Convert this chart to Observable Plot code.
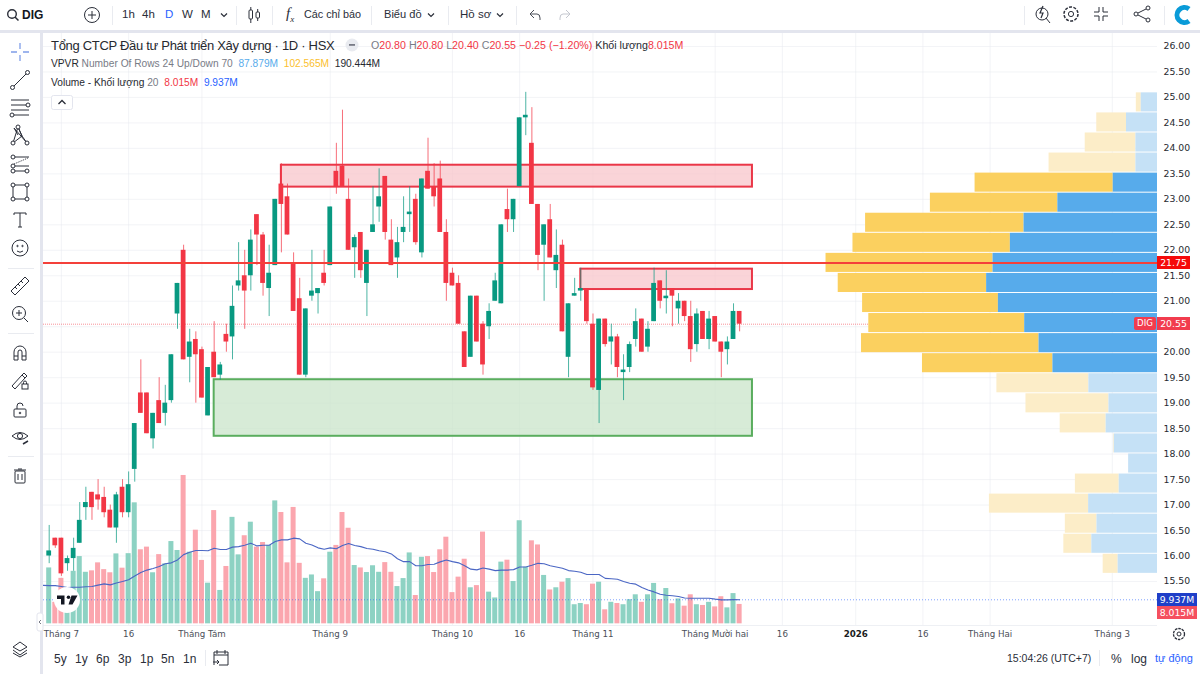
<!DOCTYPE html>
<html lang="vi">
<head>
<meta charset="utf-8">
<title>DIG</title>
<script src="https://cdn.jsdelivr.net/npm/d3@7"></script>
<script src="https://cdn.jsdelivr.net/npm/@observablehq/plot@0.6"></script>
<style>
html,body{margin:0;padding:0;background:#fff;width:1200px;height:674px;overflow:hidden;font-family:"Liberation Sans",Arial,sans-serif;color:#131722}
#wrap{position:relative;width:1200px;height:674px;overflow:hidden}
#wrap>svg{position:absolute;left:0;top:0}
.t{position:absolute;white-space:nowrap;line-height:1}
.bar{position:absolute;background:#e3e5ee}
.tag{position:absolute;color:#fff;font-size:9.3px;line-height:13px;height:13px;text-align:center;font-family:"DejaVu Sans",sans-serif}
.r{color:#f23645}.g{color:#787b86}
</style>
</head>
<body>
<div id="wrap"></div>
<script>
// Daily candles, one entry per trading day (thousand VND)
const open = [16,16.35,16.35,15.85,15.95,16.25,16.95,17.25,17.2,17.15,16.9,16.55,17.35,16.85,17.7,19.2,19.2,18.3,19.05,18.8,19.05,20.75,22,19.9,20.25,20.05,18.75,20,19.55,20.35,20.3,21.3,21.5,21.5,22.7,22.3,21.25,21.7,23.3,23.05,21.75,21.05,19.55,21.1,21.15,21.55,21.7,23.55,23.65,23,22.05,22.35,21.35,22.35,22.85,23.45,22.2,21.85,22.35,22.7,23,21.95,23.55,23.25,23.4,22.35,21.55,21.35,20.4,19.9,21.1,20.55,20.5,21,20.95,22.8,22.6,23.25,24.6,24.1,22.9,22.1,22.6,21.6,22.1,19.9,21.1,21.2,21.25,20.55,19.25,20.65,20.2,20.3,19.6,19.7,20.25,20.65,20.1,20.6,21.4,21.05,21.25,20.85,21,20.7,20.15,20.8,20.25,20.7,20.2,20.05,20.25,20.8];
const high = [16.6,16.35,16.35,16,16.35,17.05,17.35,17.25,17.5,17.35,17,17.25,17.5,17.65,18.6,19.85,19.2,18.8,19.5,19.35,19.95,21.35,22.1,20.45,20.4,20.1,19.7,20.6,19.8,20.55,21.3,22.15,22,22.4,22.7,22.35,22.1,23,23.7,23.3,21.95,21.45,20.85,22,21.25,22,22.85,24.1,24.75,23.4,22.3,22.35,22,23.25,23.6,23.45,22.6,22.45,23.05,23.25,23.1,23.4,24.2,23.7,23.75,22.6,21.65,21.5,20.4,21.1,21.1,20.6,20.95,21.55,22.5,23.2,23,24.6,25.1,24.8,22.9,22.5,22.9,22.4,22.2,20.95,21.45,21.65,21.25,20.75,20.65,20.65,20.55,20.35,19.95,20.2,20.85,20.65,20.6,21.65,21.4,21.6,21.25,21.15,21,21,20.85,20.8,20.8,20.7,20.2,20.3,20.95,20.8];
const low = [15.85,16.15,15.6,15.7,15.7,16.25,16.7,16.7,16.9,16.75,16.55,16.25,16.75,16.75,17.45,18.8,18.4,18.1,18.6,18.55,19,20.45,19.85,19.4,19,19.1,18.75,19.5,19.45,20,19.85,21.2,20.45,21.2,21.7,21.1,20.7,21.7,21.95,22.3,20.8,19.55,19.5,21,20.75,21.3,21.7,23.1,23.25,22,21.45,21.45,20.7,22.35,22.55,22.2,21.7,21.45,22.15,22.35,22.1,21.85,23.2,22.85,22.35,21,21.3,20.55,19.7,19.9,20.2,19.55,20.25,21,20.95,22.35,22.35,23.25,24.25,22.9,21.6,21,21.85,21.25,20.4,19.5,21.1,21,20.55,19.25,18.6,20.1,19.75,19.5,19.05,19.6,20.1,20,20,20.6,20.85,20.75,20.5,20.55,20.6,19.8,20,20.25,20.05,20.2,19.5,19.75,20.25,20.4];
const close = [16.1,16.2,15.65,15.95,16.15,16.7,17.05,16.95,17.1,16.85,16.55,17.2,16.85,17.4,18.6,18.8,18.4,18.8,18.6,19,19.95,21.35,19.85,20.2,19.95,19.1,19.7,19.5,19.75,20.2,20.9,21.4,21.2,22.2,22.3,21.35,21.55,23,22.9,22.3,20.8,19.55,20.85,21.2,21.25,21.35,22.85,23.25,23.25,22,22.25,21.6,22,22.5,23.05,22.35,21.7,22.15,22.45,22.75,22.15,23.4,23.2,23.05,22.35,21.35,21.3,20.55,19.7,21.1,20.2,19.75,20.8,21.4,22.5,22.6,23,24.6,24.65,22.9,21.9,22.5,21.85,21.9,20.4,20.95,21.15,21.25,20.6,19.3,20.65,20.15,20.3,19.7,19.65,20.15,20.6,20,20.45,21.35,21,21.1,21.1,21,20.7,20.05,20.75,20.25,20.65,20.2,20,20.2,20.8,20.55];
// Traded volume per day (millions of shares)
const volume = [23.1,8.9,18.8,14.6,21.7,27.8,21.3,21.9,25.2,22.4,21.1,28.9,23,29,50,30.6,31.7,21.1,28.6,24.8,34,30.3,61.3,29.6,38.7,26.2,16.8,46.8,13.8,23.7,44,28.5,36.4,42,31.7,33.6,32.4,50.8,46,25.2,48.1,25,18.8,20.2,13.3,18.6,29.6,32.4,46,39.5,24.1,23.1,21.2,24,21.3,25.3,21.3,15.4,18.7,29.3,11.7,27.5,27.8,21.2,30.6,35.8,12.9,19.3,26.7,14.9,15.8,37.9,13.1,10.7,25.5,26.3,17.5,42.6,23.4,34.3,32.6,20,14,14.9,17.2,18.7,7.9,8.4,7.9,16.4,17.2,5.8,8.9,8.4,7.9,10,12,8.9,12,16.7,10,14.6,8.3,10.3,7.3,12,7.9,7.6,8.9,7,11.2,6.6,12.5,8.015];
// 20-day volume average; the first value belongs to the session before the first candle
const volumeAvg = [15.9,15.8,15.8,15.4,15,15.1,15.1,15.3,15.4,16,16.5,16.1,16.9,17.5,18.2,19.8,21.2,22.2,22.9,23.7,24.8,25.2,26.4,28.6,29.6,30.3,30.3,30.2,31.2,30.7,30.7,31.7,31.9,32.5,33.3,32.2,32.5,32.5,34,34.7,34.7,35.4,35.1,33.3,32.6,31.4,30.8,31.4,31,32.4,33.2,32.4,31.9,31.1,30.8,30.2,29.8,28.9,26.9,25.7,25.7,24,24,24.5,24.6,25.6,26.4,25.7,25.2,24,22.6,22.3,23.1,22.6,22,22.2,22.2,22.4,23.5,23.5,24.2,25,24.8,24,23.5,23,22,21.7,21.3,20.4,20.4,20.4,18.8,18.6,18.4,17.5,16.8,16.4,15,14,13.2,12.2,11.8,11.6,11.3,10.7,10.6,10.6,10.6,10.6,10.2,9.9,9.9,10,9.937];
// Volume profile, 24 rows from the lowest price upward (millions)
const vpUp = [1.84,3.07,2.83,3.22,1.79,1.35,2.02,2.4,2.27,3.21,4.89,5.54,6.21,7.44,7.99,7.69,6.88,6.24,4.66,2.07,1.01,1.01,1.45,.76];
const vpDown = [.7,1.31,1.48,4.64,2.05,0,.03,2.15,3.88,4.3,6.1,8.3,7.29,6.35,6.94,7.81,7.36,7.41,5.96,6.46,4.06,2.37,1.39,.23];
const vpLow = 15.65, vpStep = .39375, vaRows = [10, 19];
// Supply and demand zones drawn on the chart: session span and price span
const zoneStart = [38, 87, 27], zoneEnd = [115.1, 115.1, 115.1];
const zoneTop = [23.67, 21.63, 19.46], zoneBottom = [23.24, 21.23, 18.35];
const zoneColor = ["#ea3748", "#ea3748", "#5aad5e"], zoneFill = ["#f8c6cb", "#f8c6cb", "#c9e4ca"];
const keyLevel = 21.75, lastPrice = 20.55, lastVolume = 8.015, lastAvg = 9.937;
// Axes
const priceTicks = [26,25.5,25,24.5,24,23.5,23,22.5,22,21.5,21,20.5,20,19.5,19,18.5,18,17.5,17,16.5,16,15.5];
const hiddenPriceTick = 20.5; // covered by the last-price tag in the chart
const timeTicks = [2,13,25,46,66,77,89,109,120,143,154,174];
const timeLabels = ["Tháng 7","16","Tháng Tám","Tháng 9","Tháng 10","16","Tháng 11","Tháng Mười hai","16","16","Tháng Hai","Tháng 3"];
const yearTick = 132, yearLabel = "2026";

const up = "#089981", down = "#f23645";
const days = open.map((_, i) => i);
// Twin-axis conversions onto the shared scales
const volBase = 14.669, volPerM = .0475;
const vpRight = 181.39, vpPerM = 3.5;
const toPrice = v => volBase + v * volPerM;

const vpRows = vpUp.map((u, k) => ({
  lo: vpLow + k * vpStep, hi: vpLow + (k + 1) * vpStep,
  u, d: vpDown[k], va: k >= vaRows[0] && k <= vaRows[1]
}));
const zones = zoneStart.map((s, k) => ({s, e: zoneEnd[k], t: zoneTop[k], b: zoneBottom[k], c: zoneColor[k], f: zoneFill[k]}));

const chart = Plot.plot({
  width: 1200, height: 674,
  marginLeft: 43, marginRight: 43, marginTop: 33, marginBottom: 49,
  style: {background: "transparent", fontFamily: '"DejaVu Sans",sans-serif', fontSize: "10px", color: "#131722"},
  x: {type: "linear", domain: [0, 174], range: [48.7, 1111.84], axis: null},
  y: {type: "linear", domain: [26, 15.5], range: [46, 581], axis: null},
  marks: [
    Plot.gridX(timeTicks.concat(yearTick), {stroke: "#e8eaf0", strokeOpacity: .5}),
    Plot.gridY(priceTicks, {stroke: "#e8eaf0", strokeOpacity: .5}),
    // Volume pane
    Plot.rect(days, {
      x1: i => i - .41, x2: i => i + .41,
      y1: () => volBase, y2: i => toPrice(volume[i]),
      fill: i => close[i] < open[i] ? "#fba6ae" : "#8dd2c3"
    }),
    Plot.ruleY([toPrice(lastAvg)], {stroke: "#2962ff", strokeOpacity: .6, strokeWidth: 1, strokeDasharray: "1 2"}),
    Plot.line(volumeAvg, {x: (_, i) => i - 1, y: d => toPrice(d), stroke: "#4a66c4", strokeWidth: 1.1, curve: "linear"}),
    // Current price line, behind the profile
    Plot.ruleY([lastPrice], {stroke: "#f23645", strokeOpacity: .55, strokeWidth: 1, strokeDasharray: "1 1"}),
    // Volume profile
    Plot.rect(vpRows, {
      x1: d => vpRight - (d.u + d.d) * vpPerM, x2: d => vpRight - d.u * vpPerM,
      y1: "lo", y2: "hi", insetTop: .5, insetBottom: .5,
      fill: d => d.va ? "#fbd05f" : "#fcedc8"
    }),
    Plot.rect(vpRows, {
      x1: d => vpRight - d.u * vpPerM, x2: () => vpRight,
      y1: "lo", y2: "hi", insetTop: .5, insetBottom: .5,
      fill: d => d.va ? "#57abeb" : "#c5e1f6"
    }),
    // Zones
    Plot.rect(zones, {x1: "s", x2: "e", y1: "b", y2: "t", fill: "f", fillOpacity: .75, stroke: "c", strokeWidth: 2}),
    // Candles
    Plot.ruleX(days, {
      x: i => i, y1: i => low[i], y2: i => high[i], strokeWidth: 1, strokeOpacity: .72,
      stroke: i => close[i] < open[i] ? down : up
    }),
    Plot.rect(days, {
      x1: i => i - .39, x2: i => i + .39,
      y1: i => Math.min(open[i], close[i]), y2: i => Math.max(open[i], close[i]),
      fill: i => close[i] < open[i] ? down : up
    }),
    // Horizontal level
    Plot.ruleY([keyLevel], {stroke: "#f4403a", strokeWidth: 2}),
    // Axes
    Plot.axisY(priceTicks.filter(d => d !== hiddenPriceTick), {anchor: "right", tickSize: 0, tickPadding: 6, label: null, tickFormat: d => d.toFixed(2), fontSize: 9.3, fill: "#26292f"}),
    Plot.axisX(timeTicks, {anchor: "bottom", tickSize: 0, tickPadding: 5, label: null, fontSize: 8.7, fill: "#4a4e58",
      tickFormat: d => timeLabels[timeTicks.indexOf(d)]}),
    Plot.axisX([yearTick], {anchor: "bottom", tickSize: 0, tickPadding: 5, label: null, fontSize: 8.7, fill: "#1a1c22", fontWeight: "bold",
      tickFormat: () => yearLabel})
  ]
});

const wrap = document.getElementById("wrap");
wrap.appendChild(chart);
const Y = chart.scale("y").apply;

function bar(x, y, w, h, c) {
  const d = document.createElement("div"); d.className = "bar";
  d.style.cssText = `left:${x}px;top:${y}px;width:${w}px;height:${h}px;` + (c ? `background:${c}` : "");
  wrap.appendChild(d);
}
function txt(x, y, html, css) {
  const d = document.createElement("div"); d.className = "t";
  d.style.cssText = `left:${x}px;top:${y}px;` + (css || "");
  d.innerHTML = html; wrap.appendChild(d); return d;
}
function tag(x, yc, w, label, bg, css) {
  const d = document.createElement("div"); d.className = "tag";
  d.style.cssText = `left:${x}px;top:${yc - 6.5}px;width:${w}px;background:${bg};` + (css || "");
  d.textContent = label; wrap.appendChild(d);
}

// Frame
bar(0, 30, 1200, 3); bar(40, 33, 3, 641);
bar(43, 625, 1114, 1, "#eef0f4");

// Price-scale tags, placed from the price scale
tag(1157, Y(keyLevel), 33, keyLevel.toFixed(2), "#f50a0a");
tag(1157, Y(lastPrice), 33, lastPrice.toFixed(2), "#f23c4e");
tag(1134, Y(lastPrice), 22, "DIG", "#f23c4e", "border-radius:2px;font-size:8.6px");
tag(1157, Y(toPrice(lastAvg)), 40, lastAvg.toFixed(3) + "M", "#1f3fc8");
tag(1157, Y(toPrice(lastAvg)) + 13, 40, lastVolume.toFixed(3) + "M", "#f5505f");

// Top toolbar
const tb = "font-size:11.5px;color:#2a2e39;";
txt(22, 9, "DIG", "font-size:12px;font-weight:bold;font-family:'Liberation Sans Narrow','Liberation Sans';");
txt(122, 9, "1h", tb); txt(142, 9, "4h", tb); txt(165, 9, "D", tb + "color:#2962ff");
txt(182, 9, "W", tb); txt(201, 9, "M", tb);
txt(304, 9, "Các chỉ báo", "font-size:10.8px;color:#2a2e39");
txt(384, 9, "Biểu đồ", "font-size:11.1px;color:#2a2e39");
txt(460, 9, "Hồ sơ", "font-size:11.5px;color:#2a2e39");
txt(286, 6, "f<sub style='font-size:9px'>x</sub>", "font-size:15px;font-style:italic;font-family:'Liberation Serif';color:#2a2e39");

// Legend
txt(51, 39, "Tổng CTCP Đầu tư Phát triển Xây dựng · 1D · HSX", "font-size:13px;letter-spacing:-.3px;color:#26292f");
txt(371, 40,
  "<span class=g>O</span><span class=r>20.80</span> <span class=g>H</span><span class=r>20.80</span> <span class=g>L</span><span class=r>20.40</span> <span class=g>C</span><span class=r>20.55</span> <span class=r>−0.25 (−1.20%)</span> <span style='color:#26292f'>Khối lượng</span><span class=r>8.015M</span>",
  "font-size:10.65px");
txt(51, 59,
  "<span style='color:#26292f'>VPVR</span> <span class=g>Number Of Rows 24 Up/Down 70</span>&nbsp; <span style='color:#57abeb'>87.879M</span>&nbsp; <span style='color:#fbc02d'>102.565M</span>&nbsp; <span style='color:#26292f'>190.444M</span>",
  "font-size:10.2px");
txt(51, 78,
  "<span style='color:#26292f'>Volume - Khối lượng</span> <span class=g>20</span>&nbsp; <span class=r>8.015M</span>&nbsp; <span style='color:#2962ff'>9.937M</span>",
  "font-size:10.2px");

// Bottom toolbar
const bb = "font-size:12px;color:#2a2e39;";
[["5y",54],["1y",75],["6p",96],["3p",118],["1p",140],["5n",161],["1n",183]].forEach(([s,x]) => txt(x, 653, s, bb));
txt(1007, 653, "15:04:26 (UTC+7)", "font-size:10.5px;color:#2a2e39");
txt(1111, 653, "%", bb); txt(1131, 653, "log", bb); txt(1155, 653, "tự động", "font-size:11px;color:#2962ff");

// Toolbar icons
const S = 'fill="none" stroke="#2a2e39" stroke-width="1"';
const g = (x, y, m) => `<g transform="translate(${x},${y})" ${S}>${m}</g>`;
const chev = (x, y) => g(x, y, '<path d="M-3,-1.5L0,1.5L3,-1.5" stroke-width="1.2"/>');
const node = (x, y) => `<circle cx="${x}" cy="${y}" r="2" fill="#fff"/>`;
const sep = (x, y, w, h) => `<rect x="${x}" y="${y}" width="${w}" height="${h}" fill="#e9ebf0"/>`;
const icons = [
  g(13, 15, '<circle cx="-1" cy="-1" r="4.3" stroke-width="1.4"/><path d="M2,2L5.5,5.5" stroke-width="1.5"/>'),
  g(92, 15, '<circle r="7.5"/><path d="M-4,0H4M0,-4V4"/>'),
  chev(224, 15), chev(431, 15), chev(500, 15),
  sep(236, 6, 1, 19), sep(272, 6, 1, 19), sep(371, 6, 1, 19), sep(448, 6, 1, 19), sep(516, 6, 1, 19),
  sep(1024, 6, 1, 19), sep(1122, 6, 1, 19), sep(1164, 6, 1, 19), sep(112, 6, 1, 19),
  g(254, 15, '<rect x="-5" y="-5" width="3.5" height="9" rx="1"/><path d="M-3.2,-8V-5M-3.2,4V8"/><rect x="2" y="-3" width="3.5" height="6" rx="1"/><path d="M3.7,-6V-3M3.7,3V6"/>'),
  g(535, 15, '<path d="M-5,-1L-1,-5M-5,-1L-1,3M-5,-1H2Q5,-1 5,3V5" stroke="#4a4e58"/>'),
  g(565, 15, '<path d="M5,-1L1,-5M5,-1L1,3M5,-1H-2Q-5,-1 -5,3V5" stroke="#c4c7cf"/>'),
  g(1042, 14, '<circle r="6"/><path d="M4,4L8,9"/><path d="M1,-8L-2,-1H1L-1,4" stroke-width="1.2"/>'),
  g(1071, 14, '<circle r="2.6"/><circle r="7" stroke-dasharray="3 1.4" stroke-width="1.5"/>'),
  g(1101, 14, '<path d="M-2,-7V-2H-7M2,-7V-2H7M-2,7V2H-7M2,7V2H7"/>'),
  g(1142, 14, '<circle cx="6" cy="-6" r="2"/><circle cx="-6" cy="0" r="2"/><circle cx="6" cy="6" r="2"/><path d="M-4,-1L4,-5M-4,1L4,5"/>'),
  `<path d="M1189,9A7.5,7.5 0 1 0 1189,21" fill="none" stroke="#0a9bd8" stroke-width="5"/>`,
  // left toolbar
  g(20, 52, '<path d="M-9,0H-3M3,0H9M0,-9V-3M0,3V9" stroke="#7f9de8" stroke-width="1.3"/>'),
  g(20, 80, '<path d="M-7,7L7,-7"/>' + node(-7.5, 7.5) + node(7.5, -7.5)),
  g(20, 107, '<path d="M-9,-7H9M-9,-2H7M-9,3H9M-7,8H9"/>' + node(8, -2) + node(-8, 8)),
  g(20, 135, '<path d="M-7,8L-2,-8L2,1L7,8M-7,8L2,1L-2,-8M-6,-7L7,8M-6,-7L-2,0"/>' + node(-7, 8) + node(-2, -8) + node(7, 8)),
  g(20, 164, '<path d="M-6,-7H9M-6,2H9M-6,7H9"/><path d="M-6,0L8,-6" stroke-dasharray="1 1"/>' + node(-7, -7) + node(-7, 2) + node(-7, 7) + node(7, 7)),
  g(20, 192, '<rect x="-7" y="-7" width="14" height="14"/>' + node(-7, -7) + node(7, -7) + node(-7, 7) + node(7, 7)),
  g(20, 220, '<path d="M-6,-7H6M-6,-7V-5M6,-7V-5M0,-7V7M-2,7H2"/>'),
  g(20, 248, '<circle r="8"/><circle cx="-2.5" cy="-2" r=".7"/><circle cx="2.5" cy="-2" r=".7"/><path d="M-3,3Q0,5.5 3,3"/>'),
  sep(8, 268, 26, 1),
  g(20, 286, '<path d="M-9,5L5,-9L9,-5L-5,9Z M-5,1L-3,3M-2,-2L0,0M1,-5L3,-3"/>'),
  g(20, 314, '<circle cx="-1" cy="-1" r="6.5"/><path d="M4,4L8,8M-4,-1H2M-1,-4V2"/>'),
  sep(8, 333, 26, 1),
  g(20, 353, '<path d="M-6,7V-1A6,6 0 0 1 6,-1V7H2V-1A2,2 0 0 0 -2,-1V7ZM-6,3H-2M2,3H6"/>'),
  g(20, 381, '<path d="M-8,5L2,-6L5,-3L-5,8ZM2,-6L4,-8L7,-5L5,-3"/><rect x="2" y="3" width="6" height="5"/><path d="M3.5,3V1.5A1.5,1.5 0 0 1 6.5,1.5V3"/>'),
  g(20, 410, '<rect x="-6" y="-1" width="12" height="8" rx="1"/><path d="M-3,-1V-4A3,3 0 0 1 3,-4"/><circle cy="3" r=".8"/>'),
  g(20, 437, '<path d="M-8,-1Q0,-8 8,-1Q0,6 -8,-1Z"/><circle cy="-1" r="2.6"/><path d="M3,7L8,4" stroke-width="1.5"/>'),
  sep(8, 456, 26, 1),
  g(20, 476, '<rect x="-5" y="-5" width="10" height="12" rx="1"/><path d="M-6,-6H6M-2,-7H2M-2,-2V4M2,-2V4"/>'),
  g(20, 648, '<path d="M0,-6L7,-1L0,3L-7,-1ZM-7,2L0,7L7,2M-7,5L0,9L7,5" fill="#fff"/>'),
  g(1179, 634, '<circle r="2"/><circle r="5.5" stroke-dasharray="2.6 .9" stroke-width="1.3"/>'),
  g(221, 658, '<path d="M-7,-3H7M-7,7V-6H7V7H-2M-4,-8V-4M4,-8V-4M-8,4H-2M-4,2L-2,4L-4,6"/>'),
  sep(205, 650, 1, 16),
  sep(1099, 650, 1, 16),
  // TradingView badge
  `<circle cx="67" cy="600" r="13" fill="#fff"/>`,
  `<path transform="translate(67,600)" d="M-10,-4.5H-2.5V4.5H-6V-1H-10ZM4.5,-4.5H10.5L5.5,4.5H1.5Z" fill="#131722"/><circle cx="68.5" cy="597.3" r="1.8" fill="#131722"/>`,
  // Collapse handle of the pane
  `<rect x="37" y="613" width="6" height="18" rx="2" fill="#fff" stroke="#e3e5ee"/><path d="M41,620L39,622L41,624" fill="none" stroke="#787b86"/>`,
  // Legend collapse controls
  `<circle cx="352" cy="45" r="6.5" fill="#e9ebf0"/><rect x="349" y="44" width="6" height="1.8" fill="#787b86"/>`,
  `<rect x="51.5" y="95.5" width="21" height="14" rx="2" fill="#fff" stroke="#e3e5ee"/><path d="M58.5,104L62,100.5L65.5,104" fill="none" stroke="#2a2e39" stroke-width="1.3"/>`
].join("");
const overlay = document.createElementNS("http://www.w3.org/2000/svg", "svg");
overlay.setAttribute("width", 1200); overlay.setAttribute("height", 674);
overlay.style.pointerEvents = "none";
overlay.innerHTML = icons;
wrap.appendChild(overlay);
</script>
</body>
</html>
